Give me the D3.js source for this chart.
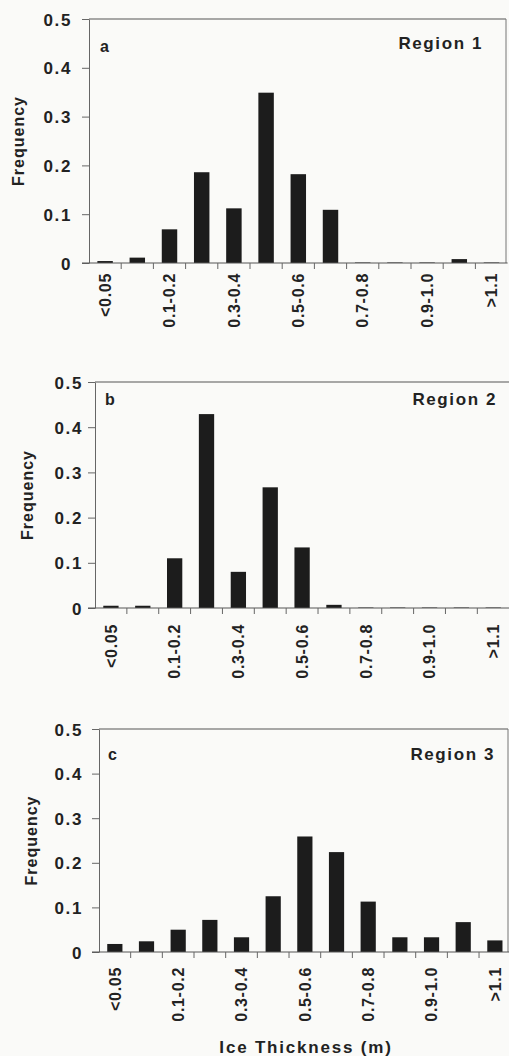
<!DOCTYPE html>
<html>
<head>
  <meta charset="utf-8">
  <title>Ice thickness frequency</title>
  <script src="https://cdn.jsdelivr.net/npm/d3@7"></script>
  <style>
    body { margin: 0; background: #fafaf8; }
    text { font-family: "Liberation Sans", Arial, Helvetica, sans-serif; font-weight: bold; fill: #222; }
  </style>
</head>
<body>
<div class="area"></div>
<script>
var categories = ['<0.05', '0.05-0.1', '0.1-0.2', '0.2-0.3', '0.3-0.4', '0.4-0.5',
  '0.5-0.6', '0.6-0.7', '0.7-0.8', '0.8-0.9', '0.9-1.0', '1.0-1.1', '>1.1'];
var yTicks = [0, 0.1, 0.2, 0.3, 0.4, 0.5];

var region1 = [0.004, 0.011, 0.069, 0.186, 0.112, 0.349, 0.182, 0.109, 0.001, 0.001, 0.001, 0.008, 0.001];
var region2 = [0.005, 0.005, 0.110, 0.429, 0.080, 0.267, 0.134, 0.007, 0.001, 0.001, 0.001, 0.001, 0.001];
var region3 = [0.018, 0.024, 0.050, 0.072, 0.033, 0.125, 0.259, 0.224, 0.113, 0.033, 0.033, 0.067, 0.026];

var panelLetters = ['a', 'b', 'c'];
var panelTitles = ['Region 1', 'Region 2', 'Region 3'];
var series = [region1, region2, region3];

var w = 509, h = 1056;

// layout per panel (the three panels are not quite aligned)
var layout = [
  {left: 89, right: 506, step: 32.2, top: 19, bottom: 263, ylab: 24, tgap: 17, xgap: 10,
    letterX: 100, letterY: 52, titleX: 483, titleY: 49},
  {left: 95, right: 509, step: 31.86, top: 382, bottom: 608, ylab: 33, tgap: 12, xgap: 16,
    letterX: 105, letterY: 405, titleX: 497, titleY: 405},
  {left: 99, right: 508, step: 31.67, top: 729, bottom: 952, ylab: 37, tgap: 16, xgap: 15,
    letterX: 108, letterY: 760, titleX: 495, titleY: 760}
];

var svg = d3.select('.area')
  .append('svg')
  .attr('width', w)
  .attr('height', h);

series.forEach(function(vals, k) {
  var L = layout[k];
  var g = svg.append('g');

  var x = d3.scaleBand()
    .domain(categories)
    .range([L.left, L.left + L.step * categories.length])
    .paddingInner(0.52)
    .paddingOuter(0.26);

  var y = d3.scaleLinear()
    .domain([0, 0.5])
    .range([L.bottom, L.top]);

  // frame: top and right
  g.append('line').attr('x1', L.left).attr('x2', L.right).attr('y1', L.top).attr('y2', L.top)
    .attr('stroke', '#555').attr('stroke-width', 1.2);
  if (L.right < w) {
    g.append('line').attr('x1', L.right).attr('x2', L.right).attr('y1', L.top).attr('y2', L.bottom)
      .attr('stroke', '#777').attr('stroke-width', 1);
  }

  // bars
  g.selectAll('rect.bar')
    .data(vals)
    .enter().append('rect')
    .attr('class', 'bar')
    .attr('x', function(d, i) { return x(categories[i]); })
    .attr('width', x.bandwidth())
    .attr('y', function(d) { return y(d); })
    .attr('height', function(d) { return y(0) - y(d); })
    .attr('fill', '#1c1c1c');

  // y axis
  var yAxis = d3.axisLeft(y)
    .tickValues(yTicks)
    .tickSize(7)
    .tickSizeOuter(0)
    .tickPadding(L.tgap - 7)
    .tickFormat(function(d) { return d === 0 ? '0' : d3.format('.1f')(d); });
  var ya = g.append('g').attr('transform', 'translate(' + L.left + ',0)').call(yAxis);
  ya.select('.domain').attr('stroke', '#666');
  ya.selectAll('.tick line').attr('stroke', '#666');
  ya.selectAll('text')
    .style('font-size', '17px')
    .style('letter-spacing', '1.6px')
    .attr('dy', '0.36em');

  // x axis line and boundary ticks
  g.append('line').attr('x1', L.left - 7).attr('x2', Math.min(x.range()[1], w))
    .attr('y1', y(0)).attr('y2', y(0)).attr('stroke', '#555').attr('stroke-width', 1.2);
  g.selectAll('line.bt')
    .data(categories.slice(1))
    .enter().append('line')
    .attr('class', 'bt')
    .attr('x1', function(d) { return x(d) - (x.step() - x.bandwidth()) / 2; })
    .attr('x2', function(d) { return x(d) - (x.step() - x.bandwidth()) / 2; })
    .attr('y1', y(0)).attr('y2', y(0) + 6)
    .attr('stroke', '#666');

  // category labels, every other one
  var xAxis = d3.axisBottom(x)
    .tickValues(categories.filter(function(d, i) { return i % 2 === 0; }))
    .tickSize(0)
    .tickPadding(0);
  var xa = g.append('g').attr('transform', 'translate(0,' + y(0) + ')').call(xAxis);
  xa.select('.domain').remove();
  xa.selectAll('text')
    .style('font-size', '16px')
    .style('letter-spacing', '0.7px')
    .attr('text-anchor', 'end')
    .attr('transform', 'rotate(-90)')
    .attr('x', -L.xgap)
    .attr('y', 0)
    .attr('dy', '0.36em');

  // y label
  g.append('text')
    .attr('transform', 'translate(' + L.ylab + ',' + (L.top + L.bottom) / 2 + ') rotate(-90)')
    .attr('text-anchor', 'middle')
    .style('font-size', '16px')
    .style('letter-spacing', '1px')
    .text('Frequency');

  g.append('text')
    .attr('x', L.letterX).attr('y', L.letterY)
    .style('font-size', '16px')
    .text(panelLetters[k]);

  g.append('text')
    .attr('x', L.titleX).attr('y', L.titleY)
    .attr('text-anchor', 'end')
    .style('font-size', '17px')
    .style('letter-spacing', '1.6px')
    .text(panelTitles[k]);
});

svg.append('text')
  .attr('x', 306).attr('y', 1053)
  .attr('text-anchor', 'middle')
  .style('font-size', '17px')
  .style('letter-spacing', '1.8px')
  .text('Ice Thickness (m)');
</script>
</body>
</html>
